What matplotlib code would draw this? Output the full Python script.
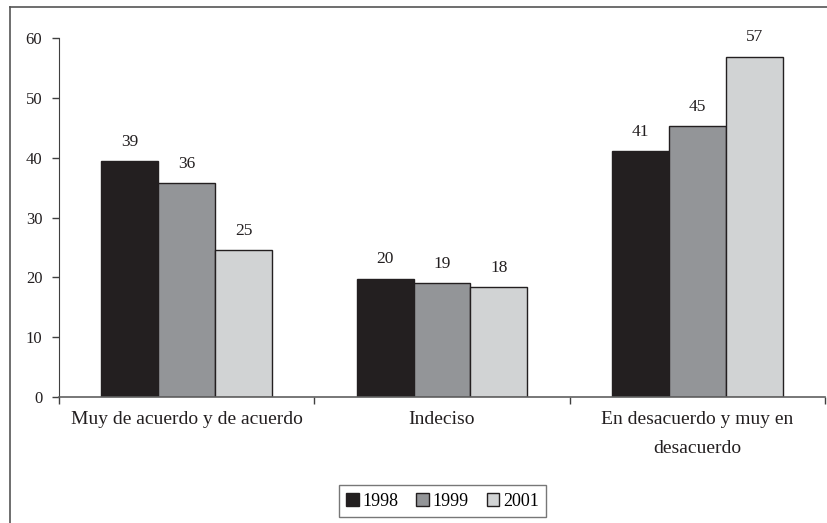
import numpy as np
import matplotlib.pyplot as plt
from matplotlib.lines import Line2D
from matplotlib.ticker import FixedLocator

categories = ["Muy de acuerdo y de acuerdo", "Indeciso", "En desacuerdo y muy en\ndesacuerdo"]
years = ["1998", "1999", "2001"]
v1998 = [39.4, 19.8, 41.1]
v1999 = [35.8, 19.0, 45.3]
v2001 = [24.6, 18.4, 56.9]
labels1998 = ["39", "20", "41"]
labels1999 = ["36", "19", "45"]
labels2001 = ["25", "18", "57"]

colors = ["#231f20", "#939598", "#d1d3d4"]

plt.rcParams["font.family"] = ["Liberation Serif", "DejaVu Serif"]


def main():
    fig = plt.figure(figsize=(8.27, 5.23), dpi=100)
    ax = fig.add_axes([0.0713, 0.2409, 0.9263, 0.6864])

    x = np.arange(len(categories))
    width = 0.223
    series = [v1998, v1999, v2001]
    texts = [labels1998, labels1999, labels2001]
    for i, (vals, labs) in enumerate(zip(series, texts)):
        bars = ax.bar(x + (i - 1) * width, vals, width, color=colors[i],
                      edgecolor="#231f20", linewidth=1.0, label=years[i])
        for b, t in zip(bars, labs):
            ax.annotate(t, (b.get_x() + b.get_width() / 2, b.get_height()),
                        xytext=(0, 8), textcoords="offset points",
                        ha="center", va="bottom", fontsize=12.5, color="#231f20")

    ax.set_xlim(-0.5, 2.5)
    ax.set_ylim(0, 60)
    ax.set_yticks(range(0, 61, 10))
    ax.tick_params(axis="y", length=5, width=1, pad=7, labelsize=12,
                   color="#404040", labelcolor="#231f20")

    ax.set_xticks(x)
    ax.set_xticklabels(categories, fontsize=14, color="#231f20", linespacing=1.9,
                       va="top")
    ax.tick_params(axis="x", which="major", length=0, pad=10)
    ax.xaxis.set_minor_locator(FixedLocator([-0.5, 0.5, 1.5, 2.5]))
    ax.tick_params(axis="x", which="minor", length=5, width=1, color="#404040")

    for s in ["top", "right"]:
        ax.spines[s].set_visible(False)
    ax.spines["left"].set_color("#404040")
    ax.spines["bottom"].set_color("#606060")
    ax.spines["bottom"].set_linewidth(1.2)

    leg = ax.legend(loc="center", bbox_to_anchor=(442.5 / 827, 1 - 501 / 523),
                    bbox_transform=fig.transFigure, ncol=3, frameon=True,
                    fancybox=False, edgecolor="#555555", fontsize=13,
                    handlelength=0.7, handleheight=0.7, handletextpad=0.2,
                    columnspacing=1.0, borderpad=0.4)
    leg.get_frame().set_linewidth(1.0)

    # outer frame of the figure (top and left edges only visible)
    fig.add_artist(Line2D([10 / 827, 1], [1 - 7 / 523, 1 - 7 / 523],
                          transform=fig.transFigure, color="#555555", lw=1.2))
    fig.add_artist(Line2D([10 / 827, 10 / 827], [0, 1 - 7 / 523],
                          transform=fig.transFigure, color="#555555", lw=1.2))

    fig.savefig("out.png", dpi=100)


if __name__ == "__main__":
    main()
